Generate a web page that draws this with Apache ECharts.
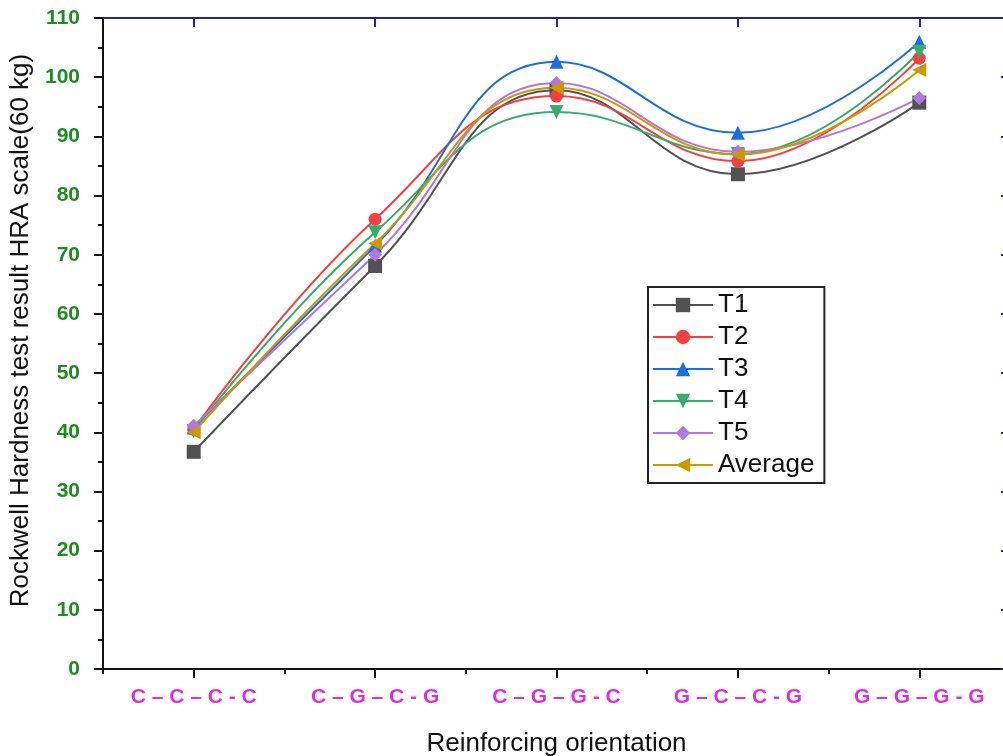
<!DOCTYPE html>
<html>
<head>
<meta charset="utf-8">
<title>Rockwell Hardness</title>
<script src="https://cdn.jsdelivr.net/npm/echarts@6/dist/echarts.min.js"></script>
<style>
  html, body { margin: 0; padding: 0; background: #fff; }
  #chart { width: 1003px; height: 756px; }
</style>
</head>
<body>
<div id="chart"></div>
<script>
// categories
const orientations = ['C – C – C - C', 'C – G – C - G', 'C – G – G - C', 'G – C – C - G', 'G – G – G - G']

// hardness values
const t1 = [36.7, 68.1, 97.8, 83.6, 95.7]
const t2 = [40.5, 76.0, 96.8, 85.8, 103.2]
const t3 = [40.8, 71.5, 102.6, 90.6, 106.0]
const t4 = [40.2, 73.8, 94.1, 87.0, 104.3]
const t5 = [41.1, 70.0, 99.0, 87.4, 96.5]
const avg = [40.0, 71.9, 98.2, 86.9, 101.2]

const chart = echarts.init(document.getElementById('chart'))

const mkSeries = (name, data, color, symbol, rotate) => ({
  name,
  type: 'line',
  data,
  smooth: 0.45,
  symbol,
  symbolSize: symbol === 'circle' ? 13 : 14,
  symbolRotate: rotate || 0,
  xAxisIndex: 0,
  yAxisIndex: 0,
  lineStyle: { color, width: 2 },
  itemStyle: { color },
  emphasis: { disabled: true }
})

const option = {
  animation: false,
  backgroundColor: '#fff',
  textStyle: { fontFamily: 'Liberation Sans, Arial, sans-serif' },
  grid: {
    left: 103,
    top: 18,
    right: -7,
    bottom: 87,
    outerBoundsMode: 'none'
  },
  legend: {
    orient: 'vertical',
    left: 648,
    top: 287,
    padding: [5, 10, 5, 4],
    borderColor: '#222',
    borderWidth: 2,
    itemWidth: 60,
    itemHeight: 18,
    itemGap: 6,
    textStyle: { color: '#111', fontSize: 26 },
    data: ['T1', 'T2', 'T3', 'T4', 'T5', 'Average']
  },
  xAxis: [
    {
      type: 'category',
      position: 'bottom',
      data: orientations,
      boundaryGap: true,
      name: 'Reinforcing orientation',
      nameLocation: 'middle',
      nameGap: 62,
      nameTextStyle: { color: '#111', fontSize: 26 },
      axisLine: { show: true, lineStyle: { color: '#111', width: 2 } },
      axisTick: { show: true, alignWithLabel: true, length: 9, lineStyle: { color: '#111', width: 2 } },
      axisLabel: { show: true, color: '#DA2FDA', fontSize: 21, fontWeight: 'bold', margin: 18 },
      splitLine: { show: false }
    },
    {
      type: 'category',
      position: 'bottom',
      data: orientations,
      boundaryGap: true,
      axisLine: { show: false },
      axisTick: { show: true, length: 5, lineStyle: { color: '#111', width: 2 } },
      axisLabel: { show: true, formatter: () => '' },
      splitLine: { show: false }
    },
    {
      type: 'category',
      position: 'top',
      data: orientations,
      boundaryGap: true,
      axisLine: { show: true, lineStyle: { color: '#2222AA', width: 2 } },
      axisTick: { show: true, alignWithLabel: true, inside: true, length: 9, lineStyle: { color: '#2222AA', width: 2 } },
      axisLabel: { show: true, formatter: () => '' },
      splitLine: { show: false }
    }
  ],
  yAxis: [
    {
      type: 'value',
      position: 'left',
      min: 0,
      max: 110,
      interval: 10,
      name: 'Rockwell Hardness test result HRA scale(60 kg)',
      nameLocation: 'middle',
      nameGap: 64,
      nameRotate: 90,
      nameTextStyle: { color: '#111', fontSize: 26, padding: [0, 0, 0, 26] },
      axisLine: { show: true, lineStyle: { color: '#111', width: 2 } },
      axisTick: { show: true, length: 9, lineStyle: { color: '#111', width: 2 } },
      minorTick: { show: true, splitNumber: 2, length: 5, lineStyle: { color: '#111', width: 2 } },
      axisLabel: { color: '#1E8C1E', fontSize: 21, fontWeight: 'bold', margin: 23 },
      splitLine: { show: false }
    },
    {
      type: 'value',
      position: 'right',
      min: 0,
      max: 110,
      interval: 10,
      axisLine: { show: true, lineStyle: { color: '#2222AA', width: 2 } },
      axisTick: { show: true, inside: true, length: 9, lineStyle: { color: '#2222AA', width: 2 } },
      axisLabel: { show: false },
      splitLine: { show: false }
    }
  ],
  series: [
    mkSeries('T1', t1, '#515151', 'rect'),
    mkSeries('T2', t2, '#F14040', 'circle'),
    mkSeries('T3', t3, '#1A6FDF', 'triangle'),
    mkSeries('T4', t4, '#37AD6B', 'triangle', 180),
    mkSeries('T5', t5, '#B177DE', 'diamond'),
    mkSeries('Average', avg, '#CC9900', 'triangle', 90)
  ]
}

chart.setOption(option)
</script>
</body>
</html>
